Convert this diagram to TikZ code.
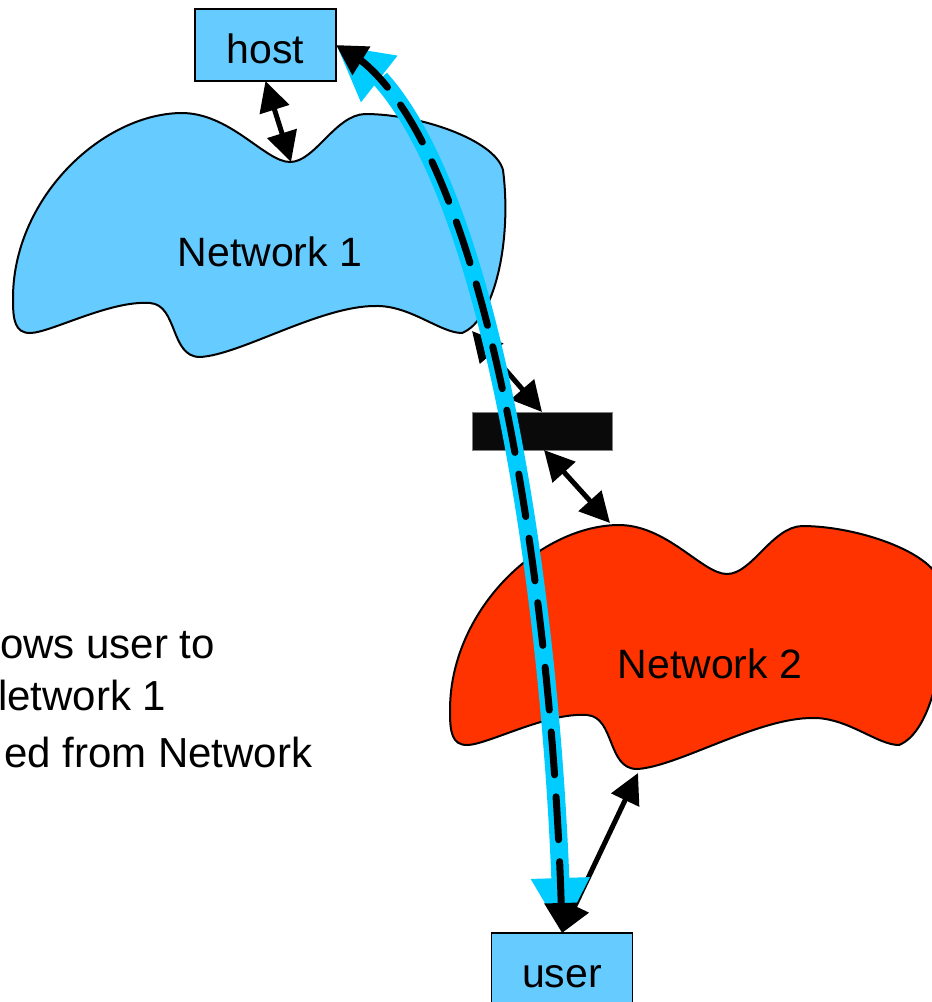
\documentclass[tikz,border=0pt]{standalone}
\usepackage{fontspec}
\setmainfont{Liberation Sans}
\usetikzlibrary{arrows.meta,bending}

\definecolor{netblue}{HTML}{66CCFF}
\definecolor{netred}{HTML}{FF3300}
\definecolor{pathcyan}{HTML}{00CCFF}
\definecolor{barblack}{HTML}{0A0A0A}

% outline of a network cloud, in its own local coordinates
\newcommand{\cloudoutline}{(13,300)
  .. controls (12,200) and (100,115) .. (180,113)
  .. controls (230,112) and (265,162) .. (290,162)
  .. controls (315,162) and (335,115) .. (365,114)
  .. controls (420,114) and (495,140) .. (503,170)
  .. controls (512,240) and (495,320) .. (462,333)
  .. controls (440,333) and (410,305) .. (375,306)
  .. controls (320,306) and (240,355) .. (200,357)
  .. controls (170,357) and (178,305) .. (150,303)
  .. controls (110,300) and (50,333) .. (30,333)
  .. controls (15,333) and (13,320) .. (13,300) -- cycle}

\tikzset{
  bigtext/.style={font=\fontsize{41}{49}\selectfont},
  cloudshape/.style={draw=black, line width=2pt},
  boxnode/.style={draw=black, line width=1.5pt, fill=netblue,
    minimum width=141pt, minimum height=72pt, inner sep=0pt, outer sep=0pt,
    text height=36pt, text depth=0pt, bigtext},
  gatebar/.style={draw=gray, line width=1pt, fill=barblack,
    minimum width=140pt, minimum height=38pt, inner sep=0pt, outer sep=0pt},
  netlink/.style={line width=5pt, black,
    {Triangle[length=30pt 0 0,width=30pt 0 0]}-{Triangle[length=30pt 0 0,width=30pt 0 0]}},
  pathwide/.style={line width=18pt, pathcyan,
    {Triangle[length=55pt 0 0,width=55pt 0 0,flex]}-{Triangle[length=55pt 0 0,width=55pt 0 0,flex]}},
  pathdash/.style={line width=7pt, black, line cap=round, dash pattern=on 43pt off 22pt,
    {Triangle[length=30pt 0 0,width=32pt 0 0,flex]}-{Triangle[length=30pt 0 0,width=32pt 0 0,flex]}},
  sidetext/.style={font=\fontsize{42}{50}\selectfont, inner sep=0pt, anchor=base west}
}

\begin{document}
\begin{tikzpicture}[x=1pt,y=-1pt]
\useasboundingbox (0,0) rectangle (932,1002);

% Network 1
\draw[cloudshape, fill=netblue] \cloudoutline;
\coordinate (n1dip) at (291,162);
\coordinate (n1corner) at (472,331);
\node[bigtext, anchor=base, inner sep=0pt] (net1) at (270,266) {Network 1};

% Network 2: same outline, moved down and right
\begin{scope}[shift={(437,412)}]
  \draw[cloudshape, fill=netred] \cloudoutline;
  \coordinate (n2peak) at (173,111);
  \coordinate (n2lobe) at (201,361);
\end{scope}
\node[bigtext, anchor=base, inner sep=0pt] (net2) at (710,678) {Network 2};

% end systems and the gateway between the networks
\node[boxnode] (host) at (265.5,45) {host};
\node[boxnode] (user) at (562,969) {user};
\node[gatebar] (gate) at (542,431) {};

% explanatory text at the left
\node[sidetext] (t1) at (0,658) {ows user to};
\node[sidetext] (t2) at (-2,710) {letwork 1};
\node[sidetext] (t3) at (4,767) {ed from Network};

% physical links
\draw[netlink] (host.south) -- (n1dip);
\draw[netlink] (n1corner) -- (gate.north);
\draw[netlink] ([xshift=2pt]gate.south) -- (n2peak);
\draw[netlink] (user.north) -- (n2lobe);

% end-to-end path between user and host
\draw[pathwide] (user.north) .. controls (555,600) and (485,110) .. (host.east);
\draw[pathdash] (user.north) .. controls (555,600) and (485,110) .. (host.east);
\end{tikzpicture}
\end{document}
